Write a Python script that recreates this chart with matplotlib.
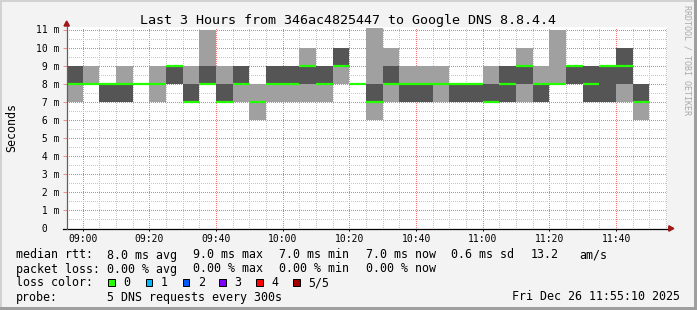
import matplotlib
matplotlib.use("Agg")
import matplotlib.pyplot as plt
import matplotlib.transforms as mtransforms
from matplotlib.patches import Rectangle, Polygon

# ---------------- data ----------------
title = "Last 3 Hours from 346ac4825447 to Google DNS 8.8.4.4"
y_label = "Seconds"
watermark = "RRDTOOL / TOBI OETIKER"

# start of each 5-minute sample interval
sample_starts = ["08:55", "09:00", "09:05", "09:10", "09:15", "09:20", "09:25",
                 "09:30", "09:35", "09:40", "09:45", "09:50", "09:55", "10:00",
                 "10:05", "10:10", "10:15", "10:20", "10:25", "10:30", "10:35",
                 "10:40", "10:45", "10:50", "10:55", "11:00", "11:05", "11:10",
                 "11:15", "11:20", "11:25", "11:30", "11:35", "11:40", "11:45"]
# sorted ping results (ms) for the 5 DNS requests of each sample
ping1 = [7, 8, 7, 7, 8, 7, 8, 7, 8, 7, 7, 6, 7, 7, 7, 7, 8, 8, 6, 7, 7, 7, 7, 7, 7, 7, 7, 7, 7, 8, 8, 7, 7, 7, 6]
ping2 = [8, 8, 7, 7, 8, 8, 8, 7, 8, 7, 8, 7, 8, 8, 8, 8, 9, 8, 7, 8, 7, 7, 8, 7, 7, 7, 7, 8, 7, 8, 8, 7, 7, 8, 7]
median = [8, 8, 8, 8, 8, 8, 9, 7, 8, 7, 8, 7, 8, 8, 9, 8, 9, 8, 7, 8, 8, 8, 8, 8, 8, 7, 8, 9, 8, 8, 9, 8, 9, 9, 7]
ping4 = [9, 8, 8, 8, 8, 8, 9, 8, 9, 8, 9, 7, 9, 9, 9, 9, 10, 8, 8, 9, 8, 8, 8, 8, 8, 8, 9, 9, 8, 8, 9, 9, 9, 10, 8]
ping5 = [9, 9, 8, 9, 8, 9, 9, 9, 11, 9, 9, 8, 9, 9, 10, 9, 10, 8, 11.1, 10, 9, 9, 9, 8, 8, 9, 9, 10, 9, 11, 9, 9, 9, 10, 8]

x_start, x_end = "08:55:10", "11:55:10"
xtick_major = ["09:00", "09:20", "09:40", "10:00", "10:20", "10:40", "11:00", "11:20", "11:40"]
ytick_values = [0, 1, 2, 3, 4, 5, 6, 7, 8, 9, 10, 11]
ytick_labels = [" 0", " 1 m", " 2 m", " 3 m", " 4 m", " 5 m", " 6 m", " 7 m", " 8 m", " 9 m", "10 m", "11 m"]

legend_rows = [
    [("median rtt:", 16), ("8.0 ms avg", 107), ("9.0 ms max", 193), ("7.0 ms min", 279),
     ("7.0 ms now", 365.5), ("0.6 ms sd", 451), ("13.2", 530.5), ("am/s", 579)],
    [("packet loss:", 16), ("0.00 % avg", 107), ("0.00 % max", 193), ("0.00 % min", 279),
     ("0.00 % now", 365.5)],
    [("loss color:", 16)],
    [("probe:", 16), ("5 DNS requests every 300s", 107)],
]
loss_labels = ["0", "1", "2", "3", "4", "5/5"]
loss_colors = ["#26ff00", "#00b8ff", "#0059ff", "#7e00ff", "#ff0000", "#a00000"]
timestamp = "Fri Dec 26 11:55:10 2025"

# ---------------- helpers ----------------
def to_min(s):
    parts = [int(p) for p in s.split(":")]
    m = parts[0] * 60 + parts[1]
    if len(parts) > 2:
        m += parts[2] / 60.0
    return m

W, H, DPI = 697, 310, 100
MONO = "DejaVu Sans Mono"

fig = plt.figure(figsize=(W / DPI, H / DPI), dpi=DPI)
fig.patch.set_facecolor("#f3f3f3")
pix = mtransforms.Affine2D().scale(1.0 / W, -1.0 / H).translate(0, 1) + fig.transFigure

# plot area in pixels
PL, PR, PT, PB = 66.7, 666.7, 27.0, 228.5
ax = fig.add_axes([PL / W, 1 - PB / H, (PR - PL) / W, (PB - PT) / H])
ax.set_facecolor("white")
for s in ax.spines.values():
    s.set_visible(False)

# ticks / grid (limits set afterwards so ticks don't expand them)
major_x = [to_min(t) for t in xtick_major]
ax.set_xticks(major_x)
ax.set_xticklabels(xtick_major, fontsize=7, family=MONO)
minor_x = [to_min("08:55") + 5 * k for k in range(1, 37)]
minor_x = [m for m in minor_x if m not in major_x]
ax.set_xticks(minor_x, minor=True)
ax.set_yticks(ytick_values)
ax.set_yticklabels([])
ax.set_yticks([v + 0.5 for v in ytick_values[:-1]], minor=True)
ax.set_xlim(to_min(x_start), to_min(x_end))
ax.set_ylim(0, (PB - PT) / 18.05)

ax.grid(which="minor", color="#c6c6c6", linestyle=":", linewidth=0.72, antialiased=False)
ax.grid(which="major", color="#ff7474", linestyle=":", linewidth=0.72, antialiased=False)
ax.set_axisbelow(True)
ax.tick_params(axis="x", which="major", length=1.6, width=0.72, color="black", pad=2.2)
ax.tick_params(axis="x", which="minor", length=0)
ax.tick_params(axis="y", which="major", length=2.6, width=0.72, color="#f09090", pad=1)
ax.tick_params(axis="y", which="minor", length=0)

# smoke
starts = [to_min(t) for t in sample_starts]
light, dark = "#a0a0a0", "#555555"
bands = [(ping1, ping2, light), (ping2, median, dark), (median, ping4, dark), (ping4, ping5, light)]
for lo, hi, col in bands:
    ax.bar(starts, [h - l for l, h in zip(lo, hi)], bottom=lo, width=5, align="edge",
           color=col, linewidth=0, zorder=2)
ax.hlines(median, starts, [s + 5 for s in starts], colors=loss_colors[0], linewidth=1.6, zorder=3)

# axes lines and arrows
ax.plot([-0.006, 1.004], [0, 0], transform=ax.transAxes, color="black", lw=0.9, clip_on=False, zorder=4)
ax.plot([0, 0], [0, (PB - 25) / (PB - PT)], transform=ax.transAxes, color="#606060", lw=0.9,
        clip_on=False, zorder=4)
fig.patches.append(Polygon([(66.7, 21.0), (64.0, 26.0), (69.4, 26.0)], closed=True,
                           transform=pix, color="#a01818", zorder=5))
fig.patches.append(Polygon([(673.8, 228.5), (668.8, 225.8), (668.8, 231.2)], closed=True,
                           transform=pix, color="#a01818", zorder=5))

# y tick labels (monospace, left aligned)
ylab_tr = mtransforms.blended_transform_factory(pix, ax.transData) + \
    mtransforms.ScaledTranslation(0, -3.5 / DPI, fig.dpi_scale_trans)
for v, lab in zip(ytick_values, ytick_labels):
    ax.text(36.3, v, lab, transform=ylab_tr, ha="left", va="baseline", fontsize=7, family=MONO,
            color="black", clip_on=False)

# title & labels
fig.text(347.5, 24.3, title, transform=pix, ha="center", va="baseline", fontsize=9.6, family=MONO)
fig.text(11.5, 127.5, y_label, transform=pix, ha="center", va="center", rotation=90,
         fontsize=8.4, family=MONO)
fig.text(687.5, 5, watermark, transform=pix, ha="center", va="top", rotation=270,
         fontsize=6, family=MONO, color="#aaaaaa")

# legend
baselines = [258.5, 272.5, 286.5, 300.5]
for row, yb in zip(legend_rows, baselines):
    for txt, x in row:
        fig.text(x, yb, txt, transform=pix, ha="left", va="baseline", fontsize=8.4, family=MONO)
box_x = [108.3, 145.6, 182.6, 219.4, 256.2, 293.3]
lab_x = [123.5, 160.8, 197.8, 234.6, 271.4, 308.0]
for bx, lx, lab, col in zip(box_x, lab_x, loss_labels, loss_colors):
    fig.patches.append(Rectangle((bx, 278.6), 6.6, 7.4, transform=pix, facecolor=col,
                                 edgecolor="black", linewidth=0.72))
    fig.text(lx, 286.5, lab, transform=pix, ha="left", va="baseline", fontsize=8.4, family=MONO)
fig.text(680.5, 300.5, timestamp, transform=pix, ha="right", va="baseline", fontsize=8.4, family=MONO)

# frame
fig.patches.append(Rectangle((0, 0), W, 2, transform=pix, color="#d2d2d2", lw=0))
fig.patches.append(Rectangle((0, 0), 2, H, transform=pix, color="#d2d2d2", lw=0))
fig.patches.append(Rectangle((0, H - 3), W, 3, transform=pix, color="#9e9e9e", lw=0))
fig.patches.append(Rectangle((W - 3, 0), 3, H, transform=pix, color="#9e9e9e", lw=0))

fig.savefig("out.png", dpi=DPI, facecolor=fig.get_facecolor())
